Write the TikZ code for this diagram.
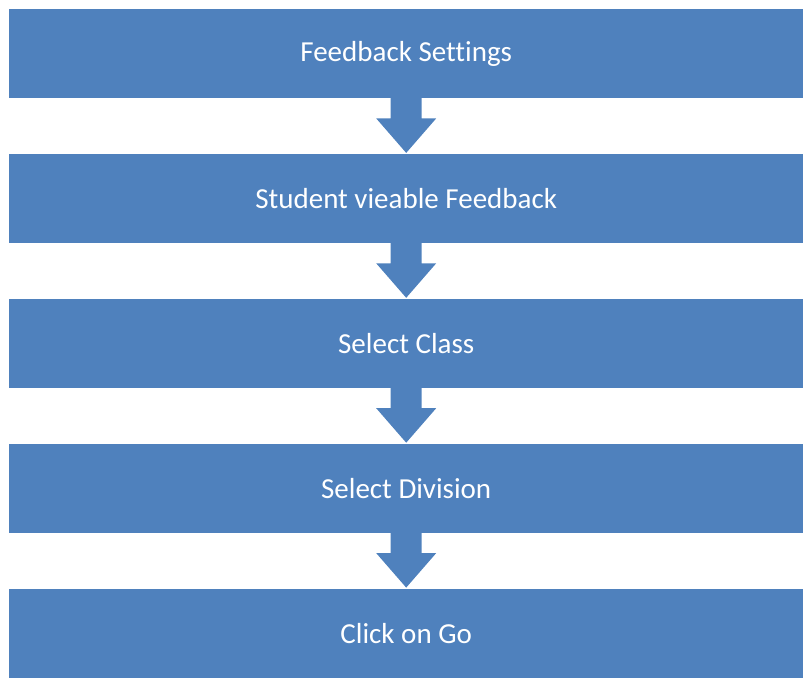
\documentclass[tikz,border=0pt]{standalone}
\usepackage{fontspec}
\setmainfont[Ligatures=NoCommon]{Carlito}
\usetikzlibrary{positioning,calc}
\definecolor{boxblue}{HTML}{4F81BD}
\newcommand{\stepdown}[2]{%
  \fill[boxblue] ($(#1.south)+(-15.5pt,1pt)$) -- ($(#1.south)+(-15.5pt,-20pt)$)
    -- ($(#1.south)+(-30pt,-20pt)$) -- ($(#2.north)+(0,1pt)$)
    -- ($(#1.south)+(30pt,-20pt)$) -- ($(#1.south)+(15.5pt,-20pt)$)
    -- ($(#1.south)+(15.5pt,1pt)$) -- cycle;%
}

\begin{document}
\begin{tikzpicture}[x=1pt,y=1pt,
  stepbox/.style={fill=boxblue,text=white,minimum width=794pt,minimum height=89pt,
    inner sep=0pt,font=\fontsize{29}{34}\selectfont}]
  \useasboundingbox (0,0) rectangle (803,-680);
  \node[stepbox,anchor=north west] (settings) at (9,-9) {Feedback Settings};
  \node[stepbox,below=55.5pt of settings] (viewable) {Student vieable Feedback};
  \node[stepbox,below=55.5pt of viewable] (class) {Select Class};
  \node[stepbox,below=55.5pt of class] (division) {Select Division};
  \node[stepbox,below=55.5pt of division] (go) {Click on Go};
  % arrows between the steps
  \stepdown{settings}{viewable}
  \stepdown{viewable}{class}
  \stepdown{class}{division}
  \stepdown{division}{go}
\end{tikzpicture}
\end{document}
